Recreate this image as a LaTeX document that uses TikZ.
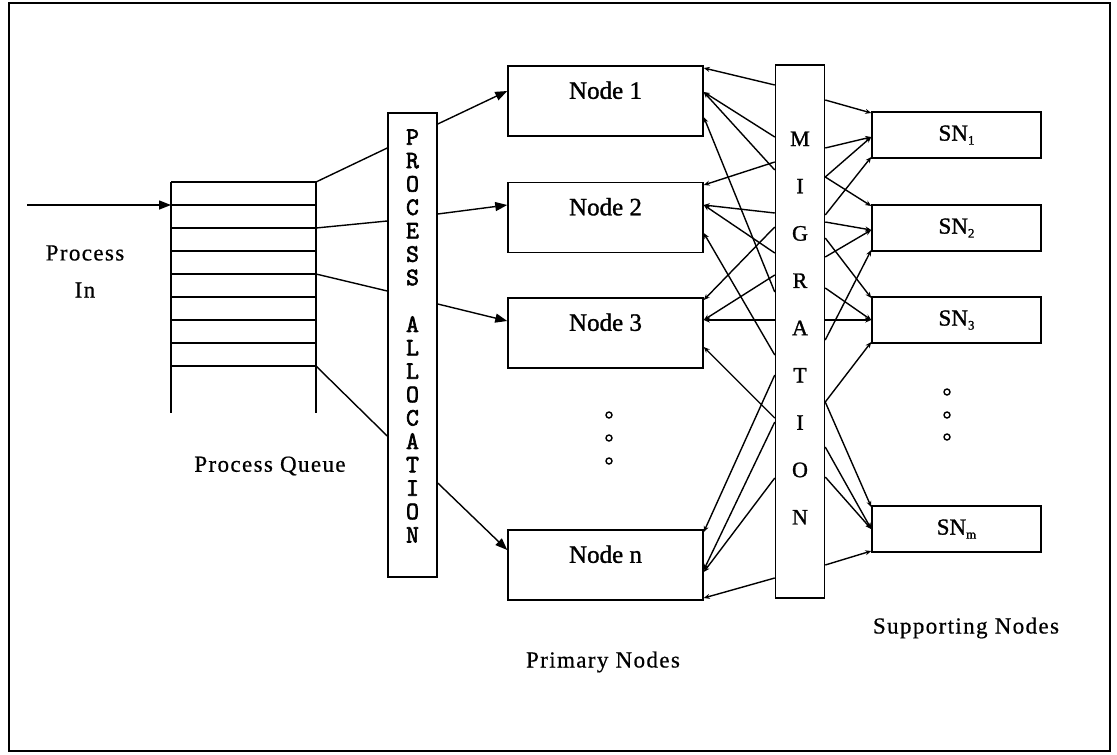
\documentclass[tikz,border=0pt]{standalone}
\usepackage{fontspec}
\setmainfont{Liberation Serif}
\newfontfamily\lblfont[LetterSpace=6,FakeBold=0.6]{Liberation Serif}
\newfontfamily\boldserif[FakeBold=1.2]{Liberation Serif}
\newfontfamily\monofont[FakeBold=2.5]{Latin Modern Mono}
\usetikzlibrary{arrows.meta,calc}
\newcommand{\subsc}[1]{\raisebox{-4pt}{\fontsize{13}{13}\selectfont #1}}
\tikzset{
 box/.style={draw, line width=1.5pt, inner sep=0pt},
 pbox/.style={box, minimum width=195pt, minimum height=70pt},
 sbox/.style={box, minimum width=169pt, minimum height=46pt, font=\boldserif\fontsize{23}{26}\selectfont},
 vbox/.style={box, minimum width=49pt},
 nlbl/.style={anchor=center, yshift=-25pt, font=\boldserif\fontsize{25}{28}\selectfont},
 lbl/.style={font=\lblfont\fontsize{23}{26}\selectfont},
 conn/.style={line width=1.4pt},
 big/.style={conn, -{Triangle[length=12pt,width=9pt]}},
 mig/.style={conn, -{Stealth[length=6pt,width=5pt]}},
 dotc/.style={circle, draw, line width=1.4pt, inner sep=0pt, minimum size=6pt},
}
\begin{document}
\begin{tikzpicture}[x=1pt,y=-1pt]
\useasboundingbox (0,0) rectangle (1117,755);
\draw[line width=1.5pt] (9,3) rectangle (1110,751);

% process queue
\foreach \y in {182,205,228,251,274,297,320,343,366}
  \draw[line width=1.4pt] (171,\y) -- (316,\y);
\draw[line width=1.4pt] (171,182) -- (171,413);
\draw[line width=1.4pt] (316,182) -- (316,413);
\coordinate (in) at (27,205);
\coordinate (qin) at (171,205);
\coordinate (q0) at (316,182);
\coordinate (q2) at (316,228);
\coordinate (q4) at (316,274);
\coordinate (q8) at (316,366);

\node[lbl] (procin) at (85,253) {Process};
\node[lbl] (procin2) at (85,290) {In};
\node[lbl] (pq) at (270,466) {Process Queue};
\node[lbl] (pn) at (603,662) {Primary Nodes};
\node[lbl] (sn) at (966,628) {Supporting Nodes};

% boxes
\node[vbox, minimum height=464pt] (pa) at (412.5,345) {};
\node[font=\monofont\fontsize{25}{23.4}\selectfont, align=center] (patxt) at (412.5,336)
  {P\\R\\O\\C\\E\\S\\S\\~\\A\\L\\L\\O\\C\\A\\T\\I\\O\\N};
\node[vbox, minimum height=533pt] (mig) at (800,331.5) {};
\node[font=\boldserif\fontsize{22}{47.3}\selectfont, align=center] (migtxt) at (800,328)
  {M\\I\\G\\R\\A\\T\\I\\O\\N};

\node[pbox, label={[nlbl]north:Node 1}] (n1) at (605.5,101) {};
\node[pbox, label={[nlbl]north:Node 2}] (n2) at (605.5,217.5) {};
\node[pbox, label={[nlbl]north:Node 3}] (n3) at (605.5,333) {};
\node[pbox, label={[nlbl]north:Node n}] (nn) at (605.5,565) {};

\node[sbox] (s1) at (956.5,135) {SN\subsc{1}};
\node[sbox] (s2) at (956.5,228) {SN\subsc{2}};
\node[sbox] (s3) at (956.5,320) {SN\subsc{3}};
\node[sbox] (sm) at (956.5,529) {SN\subsc{m}};

\node[dotc] (pd1) at (609,415) {};
\node[dotc] (pd2) at (609,438) {};
\node[dotc] (pd3) at (609,461) {};
\node[dotc] (sd1) at (947,392) {};
\node[dotc] (sd2) at (947,415) {};
\node[dotc] (sd3) at (947,437) {};

% input and queue to allocation
\draw[big] (in) -- (qin);
\draw[conn] (q0) -- (pa.west |- 0,148);
\draw[conn] (q2) -- (pa.west |- 0,221);
\draw[conn] (q4) -- (pa.west |- 0,291);
\draw[conn] (q8) -- (pa.west |- 0,436);

% allocation to nodes
\draw[big] (pa.east |- 0,124) -- (n1.west |- 0,91);
\draw[big] (pa.east |- 0,214) -- (n2.west |- 0,205);
\draw[big] (pa.east |- 0,304) -- (n3.west |- 0,321);
\draw[big] (pa.east |- 0,483) -- (nn.west |- 0,550);

% migration to primary nodes
\draw[mig] (mig.west |- 0,85)  -- (n1.east |- 0,68);
\draw[mig] (mig.west |- 0,137) -- (n1.east |- 0,92);
\draw[mig] (mig.west |- 0,170) -- (n1.east |- 0,92);
\draw[mig] (mig.west |- 0,292) -- (n1.east |- 0,117);
\draw[mig] (mig.west |- 0,162) -- (n2.east |- 0,185);
\draw[mig] (mig.west |- 0,213) -- (n2.east |- 0,205);
\draw[mig] (mig.west |- 0,253) -- (n2.east |- 0,205);
\draw[mig] (mig.west |- 0,355) -- (n2.east |- 0,233);
\draw[mig] (mig.west |- 0,227) -- (n3.east |- 0,300);
\draw[mig] (mig.west |- 0,275) -- (n3.east |- 0,320);
\draw[mig] (mig.west |- 0,320) -- (n3.east |- 0,320);
\draw[mig] (mig.west |- 0,418) -- (n3.east |- 0,347);
\draw[mig] (mig.west |- 0,375) -- (nn.east |- 0,532);
\draw[mig] (mig.west |- 0,422) -- (nn.east |- 0,570);
\draw[mig] (mig.west |- 0,478) -- (nn.east |- 0,572);
\draw[mig] (mig.west |- 0,578) -- (nn.east |- 0,598);

% migration to supporting nodes
\draw[mig] (mig.east |- 0,100) -- (s1.west |- 0,113);
\draw[mig] (mig.east |- 0,148) -- (s1.west |- 0,137);
\draw[mig] (mig.east |- 0,177) -- (s1.west |- 0,137);
\draw[mig] (mig.east |- 0,215) -- (s1.west |- 0,157);
\draw[mig] (mig.east |- 0,177) -- (s2.west |- 0,206);
\draw[mig] (mig.east |- 0,222) -- (s2.west |- 0,230);
\draw[mig] (mig.east |- 0,257) -- (s2.west |- 0,230);
\draw[mig] (mig.east |- 0,340) -- (s2.west |- 0,250);
\draw[mig] (mig.east |- 0,238) -- (s3.west |- 0,298);
\draw[mig] (mig.east |- 0,288) -- (s3.west |- 0,320);
\draw[mig] (mig.east |- 0,320) -- (s3.west |- 0,320);
\draw[mig] (mig.east |- 0,402) -- (s3.west |- 0,342);
\draw[mig] (mig.east |- 0,402) -- (sm.west |- 0,507);
\draw[mig] (mig.east |- 0,447) -- (sm.west |- 0,529);
\draw[mig] (mig.east |- 0,477) -- (sm.west |- 0,529);
\draw[mig] (mig.east |- 0,565) -- (sm.west |- 0,551);
\end{tikzpicture}
\end{document}
